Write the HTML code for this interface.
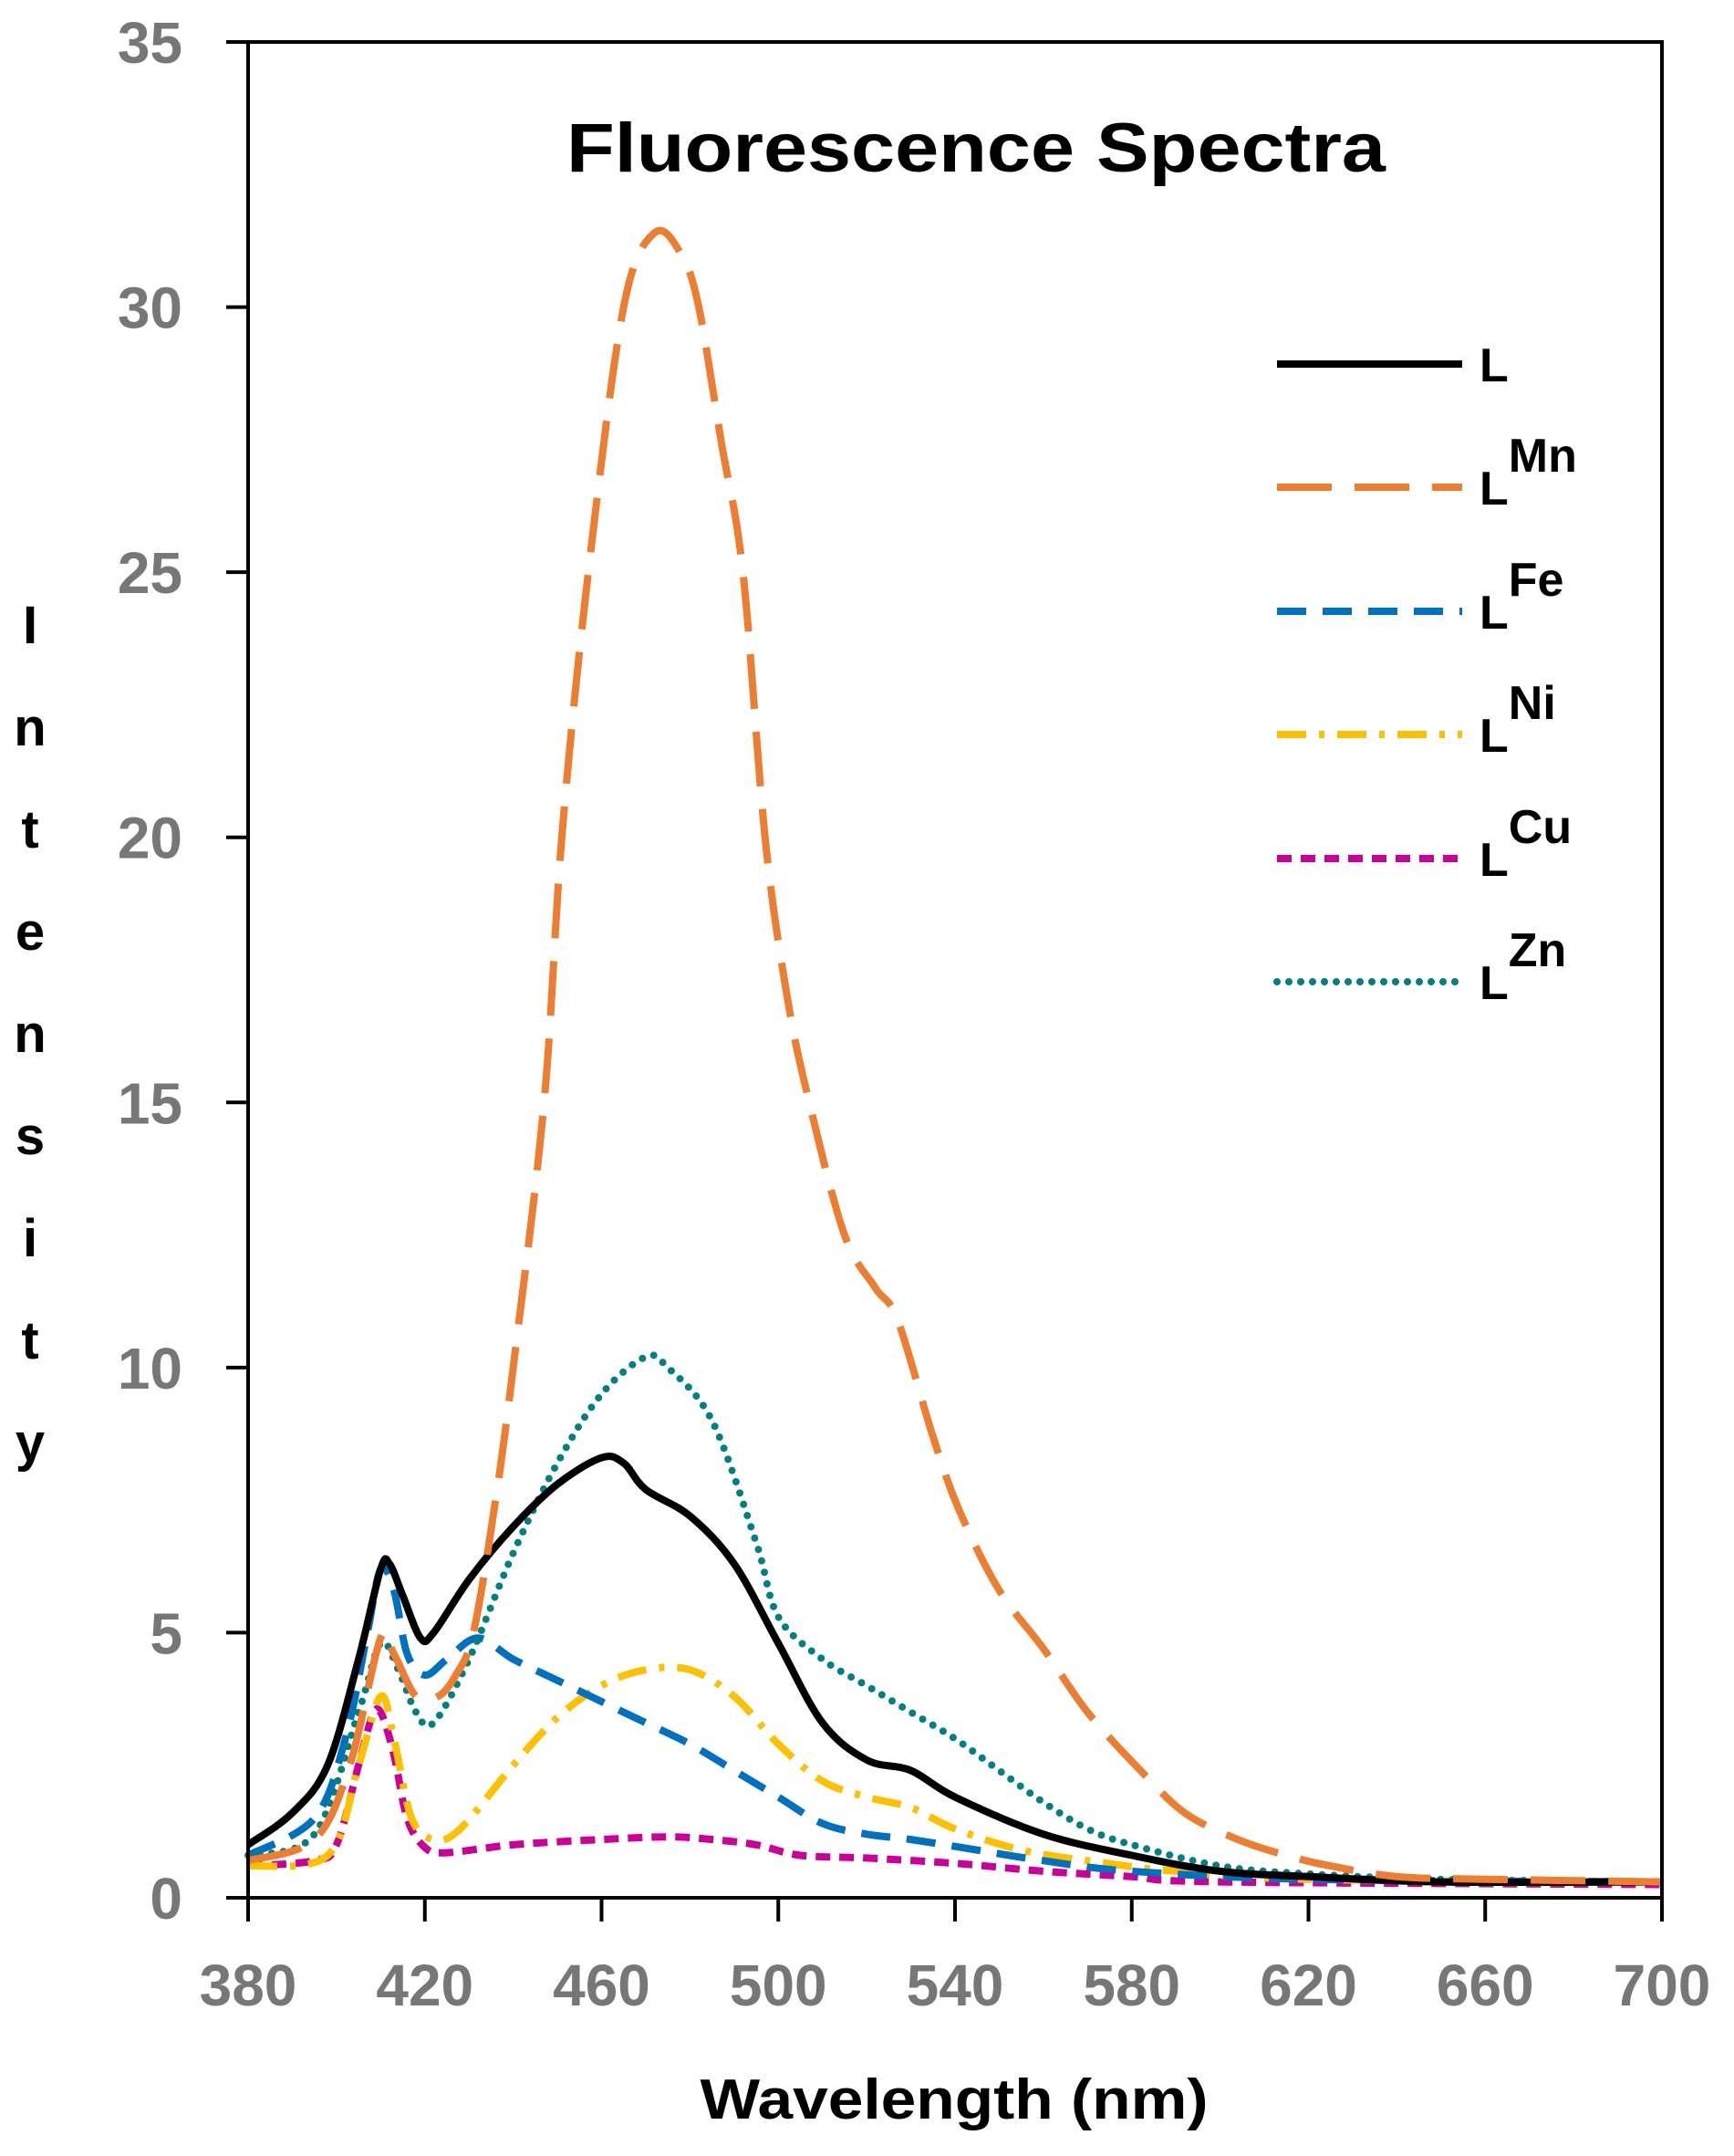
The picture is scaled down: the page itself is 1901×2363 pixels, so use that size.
<!DOCTYPE html>
<html><head><meta charset="utf-8"><style>
html,body{margin:0;padding:0;background:#fff;}
svg{display:block;}
text{font-family:"Liberation Sans",sans-serif;font-weight:bold;}
</style></head><body>
<svg id="s" width="1901" height="2363" viewBox="0 0 1901 2363" xmlns="http://www.w3.org/2000/svg">
<rect x="0" y="0" width="1901" height="2363" fill="#fff"/>
<g id="curves"></g>
<rect x="272" y="46" width="1550" height="2034" fill="none" stroke="#000" stroke-width="4"/>
<g stroke="#000" stroke-width="4" id="ticks"></g>
<g id="labels" fill="#777" font-size="64"></g>
<text x="1070" y="188" font-size="76" text-anchor="middle" fill="#000" textLength="898" lengthAdjust="spacingAndGlyphs">Fluorescence Spectra</text>
<text x="1046" y="2322" font-size="62" text-anchor="middle" fill="#000" textLength="557" lengthAdjust="spacingAndGlyphs">Wavelength (nm)</text>
<g font-size="58" fill="#000" text-anchor="middle">
<text x="33" y="705">I</text><text x="33" y="817">n</text><text x="33" y="929">t</text>
<text x="33" y="1041">e</text><text x="33" y="1153">n</text><text x="33" y="1265">s</text>
<text x="33" y="1377">i</text><text x="33" y="1489">t</text><text x="33" y="1601">y</text>
</g>
<g stroke-width="8" fill="none">
<line x1="1400" y1="399" x2="1603" y2="399" stroke="#000"/>
<line x1="1400" y1="534" x2="1603" y2="534" stroke="#ED7D31" stroke-dasharray="60 25"/>
<line x1="1400" y1="670" x2="1603" y2="670" stroke="#0070C0" stroke-dasharray="32 18"/>
<line x1="1400" y1="805" x2="1603" y2="805" stroke="#FFC000" stroke-dasharray="32 14 6 14"/>
<line x1="1400" y1="941" x2="1603" y2="941" stroke="#CC0099" stroke-dasharray="16 10"/>
<line x1="1400" y1="1076" x2="1603" y2="1076" stroke="#008080" stroke-dasharray="0 13" stroke-linecap="round"/>
</g>
<g font-size="52" fill="#000">
<text x="1622" y="418">L</text>
<text x="1622" y="553">L<tspan dy="-36" font-size="52">Mn</tspan></text>
<text x="1622" y="689">L<tspan dy="-36" font-size="52">Fe</tspan></text>
<text x="1622" y="824">L<tspan dy="-36" font-size="52">Ni</tspan></text>
<text x="1622" y="960">L<tspan dy="-36" font-size="52">Cu</tspan></text>
<text x="1622" y="1095">L<tspan dy="-36" font-size="52">Zn</tspan></text>
</g>
</svg>
<script>
var NS="http://www.w3.org/2000/svg";
function X(l){return 272+(l-380)*1550/320;}
function Y(v){return 2080-v*2034/35;}
var t=document.getElementById('ticks'),lb=document.getElementById('labels');
function el(p,n,a,txt){var e=document.createElementNS(NS,n);for(var k in a)e.setAttribute(k,a[k]);if(txt!=null)e.textContent=txt;p.appendChild(e);return e;}
for(var v=0;v<=35;v+=5){el(t,'line',{x1:248,x2:272,y1:Y(v),y2:Y(v)});el(lb,'text',{x:200,y:Y(v)+23,'text-anchor':'end'},v);}
for(var l=380;l<=700;l+=40){el(t,'line',{x1:X(l),x2:X(l),y1:2080,y2:2106});el(lb,'text',{x:X(l),y:2198,'text-anchor':'middle'},l);}
function P(s){var a=s.trim().split(/\s+/).map(function(q){var z=q.split(':');return[X(+z[0]),Y(+z[1])];});
var d='M'+a[0][0].toFixed(1)+','+a[0][1].toFixed(1);
for(var i=0;i<a.length-1;i++){var p0=a[i-1]||a[i],p1=a[i],p2=a[i+1],p3=a[i+2]||p2;
var c1=[p1[0]+(p2[0]-p0[0])/6,p1[1]+(p2[1]-p0[1])/6],c2=[p2[0]-(p3[0]-p1[0])/6,p2[1]-(p3[1]-p1[1])/6];
d+='C'+c1[0].toFixed(1)+','+c1[1].toFixed(1)+' '+c2[0].toFixed(1)+','+c2[1].toFixed(1)+' '+p2[0].toFixed(1)+','+p2[1].toFixed(1);}
return d;}
var C=document.getElementById('curves');
var S=[
["#CC0099","16 10","butt","380:0.6 395:0.7 400:1.0 405:2.5 408:3.4 410:3.5 413:2.7 416:1.5 420:0.95 425:0.85 440:1.0 460:1.1 475:1.15 485:1.1 495:1.0 505:0.8 520:0.75 540:0.65 560:0.5 580:0.4 600:0.3 700:0.25"],
["#FFC000","32 14 6 14","butt","380:0.6 398:0.8 405:2.5 410:3.8 413:3.0 417:1.5 422:1.1 428:1.3 440:2.5 450:3.4 460:4.0 470:4.3 480:4.3 490:3.8 500:2.9 510:2.2 520:1.9 530:1.7 540:1.3 555:0.9 570:0.7 590:0.5 620:0.35 700:0.3"],
["#0070C0","32 18","butt","380:0.8 395:1.5 402:3 407:5 410:6.2 413:5.8 416:4.6 420:4.2 425:4.5 432:4.9 440:4.5 450:4.1 460:3.7 470:3.3 480:2.9 490:2.4 500:1.9 510:1.4 520:1.2 530:1.1 545:0.9 560:0.7 580:0.5 620:0.35 700:0.3"],
["#008080","0 13","round","380:0.8 395:1.2 405:3.5 410:4.8 414:4.3 418:3.5 422:3.3 430:4.5 440:6.5 450:8.2 460:9.5 470:10.2 475:10.0 485:9.0 495:6.7 500:5.3 510:4.5 520:4.0 530:3.5 540:3.0 550:2.4 560:1.8 570:1.3 580:1.0 600:0.6 620:0.45 650:0.35 700:0.3"],
["#000","none","butt","380:1.0 390:1.6 398:2.5 405:4.5 410:6.2 412:6.3 415:5.7 419:4.9 422:5.0 430:6.0 440:7.0 450:7.8 460:8.3 465:8.2 470:7.7 480:7.2 490:6.3 500:4.8 510:3.3 520:2.6 530:2.4 540:1.9 560:1.2 580:0.8 600:0.5 620:0.4 650:0.3 700:0.3"],
["#ED7D31","60 25","butt","380:0.7 395:1.1 403:2.5 410:4.9 413:4.6 418:3.8 423:3.8 427:4.2 431:5 436:7.5 440:10 447:15 451:20 457:25 465:30 472:31.4 478:31 482:30 487:27.5 492:25 497:20 502:17 507:15 515:12.5 522:11.5 527:10.9 535:8.7 541:7.3 550:5.8 560:4.7 570:3.5 582:2.4 592:1.6 604:1.1 615:0.8 625:0.6 640:0.4 660:0.35 700:0.3"]
];
S.forEach(function(s){el(C,'path',{d:P(s[3]),fill:'none',stroke:s[0],'stroke-width':8,'stroke-dasharray':s[1],'stroke-linecap':s[2],'stroke-linejoin':'round'});});
</script>
</body></html>
